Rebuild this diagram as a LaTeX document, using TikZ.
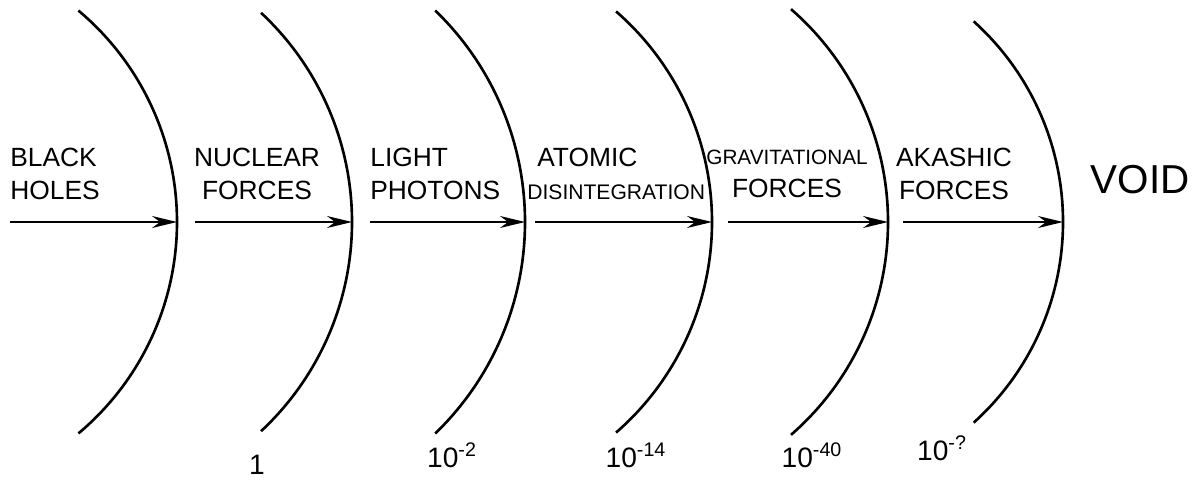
\documentclass[tikz,border=0pt]{standalone}
\usepackage{fontspec}
\setmainfont{Liberation Sans}
\usetikzlibrary{positioning, arrows.meta}

\begin{document}
\begin{tikzpicture}[
        x=0.02cm, y=-0.02cm,
        >={Stealth[length=5mm, width=2.4mm]},
        front/.style={line width=1.5pt},
        flow/.style={->, line width=1pt},
        band/.style={font=\fontsize{15}{18.5}\selectfont, inner sep=0pt},
        rate/.style={font=\fontsize{16}{18}\selectfont, inner sep=0pt}
    ]
    \useasboundingbox (0,0) rectangle (1199,480);
    % wave fronts and the arrows that reach them
    \foreach \n/\t/\x/\r/\a in {1/10/177/276/50, 2/195/352/286/47, 3/370/525/294/46,
                               4/535/712/279/49, 5/728/888/282/49, 6/903/1063/270/48}{
        \coordinate (f\n) at (\x,222);
        \coordinate (t\n) at (\t,222);
        \draw[front] (f\n) arc[start angle=0, end angle=\a, radius=\r]
                     (f\n) arc[start angle=0, end angle=-\a, radius=\r];
        \draw[flow] (t\n) -- (f\n);
    }
    \node[band, align=left, anchor=west] (holes) at (10,174) {BLACK\\HOLES};
    \node[band, align=center] (nuclear) at (257,174) {NUCLEAR\\FORCES};
    \node[band, align=left, anchor=west] (light) at (370,174) {LIGHT\\PHOTONS};
    \node[band, align=left, anchor=west] (atomic) at (527,174)
        {\hspace*{0.2cm}ATOMIC\\{\fontsize{12}{18}\selectfont DISINTEGRATION}};
    \node[band, align=center] (gravity) at (787,174)
        {{\fontsize{11.8}{18}\selectfont GRAVITATIONAL}\\FORCES};
    \node[band, align=center] (akasha) at (954,174) {AKASHIC\\FORCES};
    \node[font=\fontsize{23}{24}\selectfont, inner sep=0pt] (void) at (1140,180) {VOID};
    % rates
    \node[rate] (r1) at (257,465) {1};
    \node[rate] (r2) at (452,455) {10\textsuperscript{-2}};
    \node[rate] (r3) at (636,455) {10\textsuperscript{-14}};
    \node[rate] (r4) at (812,455) {10\textsuperscript{-40}};
    \node[rate] (r5) at (942,448) {10\textsuperscript{-?}};
\end{tikzpicture}
\end{document}
